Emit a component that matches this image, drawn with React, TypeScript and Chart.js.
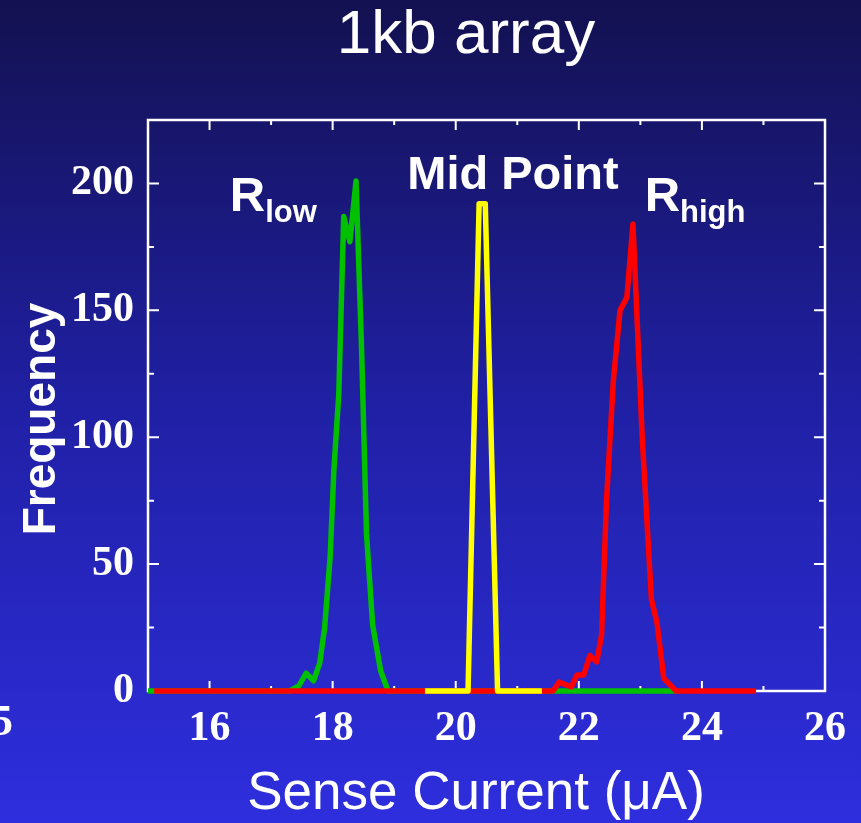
import React, { useEffect, useRef } from "react";
import { Chart, registerables } from "chart.js";

Chart.register(...registerables);

// ---- data ----
const titleText = "1kb array";
const xAxisTitle = "Sense Current (\u03bcA)";
const yAxisTitle = "Frequency";

const xTickValues = [16, 18, 20, 22, 24, 26];
const yTickValues = [0, 50, 100, 150, 200];
const xMinorTicks = [16, 17, 18, 19, 20, 21, 22, 23, 24, 25];
const yMinorTicks = [25, 50, 75, 100, 125, 150, 175, 200];

// R_low distribution (green)
const lowX = [15.0, 17.3, 17.45, 17.57, 17.69, 17.79, 17.87, 17.96, 18.02, 18.1, 18.18, 18.28, 18.38, 18.47, 18.55, 18.65, 18.78, 18.9, 23.6];
const lowY = [0, 0, 2, 7, 4, 11, 25, 53, 87, 117, 187, 177, 201, 135, 62, 26, 8, 0, 0];

// Mid point distribution (yellow)
const midX = [19.5, 20.2, 20.38, 20.48, 20.68, 21.4];
const midY = [0, 0, 192, 192, 0, 0];

// R_high distribution (red)
const highX = [15.1, 21.58, 21.68, 21.88, 21.97, 22.08, 22.18, 22.29, 22.37, 22.45, 22.56, 22.67, 22.78, 22.88, 23.03, 23.18, 23.27, 23.38, 23.58, 24.88];
const highY = [0, 0, 3.5, 1.6, 6.3, 6.3, 14, 11.5, 22, 75, 122, 150, 155, 184, 100, 36, 27, 5, 0, 0];

const toPoints = (xs: number[], ys: number[]) => xs.map((x, i) => ({ x, y: ys[i] }));

const SANS = "'Liberation Sans', Arial, sans-serif";
const SERIF = "'Liberation Serif', 'Times New Roman', serif";

const decorPlugin = {
  id: "decor",
  beforeDraw(chart: any) {
    const { ctx, width, height } = chart;
    const g = ctx.createLinearGradient(0, 0, 0, height);
    g.addColorStop(0, "#131150");
    g.addColorStop(0.5, "#2020a6");
    g.addColorStop(1, "#2e2ede");
    ctx.save();
    ctx.fillStyle = g;
    ctx.fillRect(0, 0, width, height);
    ctx.restore();
  },
  beforeDatasetsDraw(chart: any) {
    const { ctx, chartArea } = chart;
    const { left, right, top, bottom } = chartArea;
    const xs = chart.scales.x;
    const ys = chart.scales.y;
    ctx.save();
    ctx.strokeStyle = "#ffffff";
    ctx.lineWidth = 2.5;
    ctx.strokeRect(left, top, right - left, bottom - top);
    ctx.lineWidth = 2;
    ctx.beginPath();
    xMinorTicks.forEach((v) => {
      const px = xs.getPixelForValue(v);
      const len = v % 2 === 0 ? 10 : 5;
      ctx.moveTo(px, bottom);
      ctx.lineTo(px, bottom - len);
      ctx.moveTo(px, top);
      ctx.lineTo(px, top + len);
    });
    yMinorTicks.forEach((v) => {
      const py = ys.getPixelForValue(v);
      const len = v % 50 === 0 ? 11 : 6;
      ctx.moveTo(left, py);
      ctx.lineTo(left + len, py);
      ctx.moveTo(right, py);
      ctx.lineTo(right - len, py);
    });
    ctx.stroke();
    ctx.restore();
  },
  afterDraw(chart: any) {
    const { ctx } = chart;
    const xs = chart.scales.x;
    const ys = chart.scales.y;
    ctx.save();
    ctx.fillStyle = "#ffffff";
    // title
    ctx.textAlign = "center";
    ctx.textBaseline = "alphabetic";
    ctx.font = `62px ${SANS}`;
    ctx.fillText(titleText, 466, 53);
    // x axis title
    ctx.font = `53px ${SANS}`;
    ctx.fillText(xAxisTitle, 476, 809);
    // y axis title
    ctx.save();
    ctx.translate(55, 419);
    ctx.rotate(-Math.PI / 2);
    ctx.font = `bold 46px ${SANS}`;
    ctx.fillText(yAxisTitle, 0, 0);
    ctx.restore();
    // cut-off digit at left edge
    ctx.textAlign = "right";
    ctx.font = `bold 44px ${SERIF}`;
    ctx.fillText("5", 13, 735);
    // labels
    ctx.textAlign = "left";
    const label = (main: string, sub: string, xv: number, yv: number) => {
      const px = xs.getPixelForValue(xv);
      const py = ys.getPixelForValue(yv);
      ctx.font = `bold 49px ${SANS}`;
      ctx.fillText(main, px, py);
      const w = ctx.measureText(main).width;
      ctx.font = `bold 31px ${SANS}`;
      ctx.fillText(sub, px + w, py + 11);
    };
    label("R", "low", 16.33, 189);
    label("R", "high", 23.07, 189);
    ctx.textAlign = "center";
    ctx.font = `bold 47px ${SANS}`;
    ctx.fillText("Mid Point", xs.getPixelForValue(20.93), ys.getPixelForValue(198));
    ctx.restore();
  },
};

export default function App() {
  const ref = useRef<HTMLCanvasElement | null>(null);
  useEffect(() => {
    document.body.style.margin = "0";
    document.body.style.overflow = "hidden";
    if (!ref.current) return;
    const chart = new Chart(ref.current, {
      type: "scatter",
      data: {
        datasets: [
          {
            label: "Mid Point",
            data: toPoints(midX, midY),
            borderColor: "#ffff00",
            order: 0,
          },
          {
            label: "Rhigh",
            data: toPoints(highX, highY),
            borderColor: "#ff0000",
            order: 1,
          },
          {
            label: "Rlow",
            data: toPoints(lowX, lowY),
            borderColor: "#00c000",
            order: 2,
          },
        ].map((d) => ({
          ...d,
          showLine: true,
          borderWidth: 5.5,
          pointRadius: 0,
          pointHoverRadius: 0,
          tension: 0,
          fill: false,
          clip: false as any,
          borderJoinStyle: "round" as const,
          borderCapStyle: "butt" as const,
        })),
      },
      options: {
        animation: false,
        responsive: false,
        maintainAspectRatio: false,
        devicePixelRatio: 1,
        layout: { padding: { top: 120, right: 36, left: 0, bottom: 0 } },
        plugins: {
          legend: { display: false },
          title: { display: false },
          tooltip: { enabled: false },
        },
        events: [],
        scales: {
          x: {
            type: "linear",
            min: 15,
            max: 26,
            grid: { display: false, drawTicks: false },
            border: { display: false },
            afterBuildTicks: (s: any) => {
              s.ticks = xTickValues.map((v) => ({ value: v }));
            },
            afterFit: (s: any) => {
              s.height = 132;
            },
            ticks: {
              color: "#ffffff",
              padding: 13,
              maxRotation: 0,
              autoSkip: false,
              font: { family: SERIF, size: 42, weight: "bold" },
            },
          },
          y: {
            type: "linear",
            min: 0,
            max: 225,
            grid: { display: false, drawTicks: false },
            border: { display: false },
            afterBuildTicks: (s: any) => {
              s.ticks = yTickValues.map((v) => ({ value: v }));
            },
            afterFit: (s: any) => {
              s.width = 148;
            },
            ticks: {
              color: "#ffffff",
              padding: 14,
              autoSkip: false,
              font: { family: SERIF, size: 42, weight: "bold" },
            },
          },
        },
      },
      plugins: [decorPlugin],
    });
    return () => chart.destroy();
  }, []);
  return (
    <canvas
      ref={ref}
      width={861}
      height={823}
      style={{ display: "block", width: 861, height: 823 }}
    />
  );
}
